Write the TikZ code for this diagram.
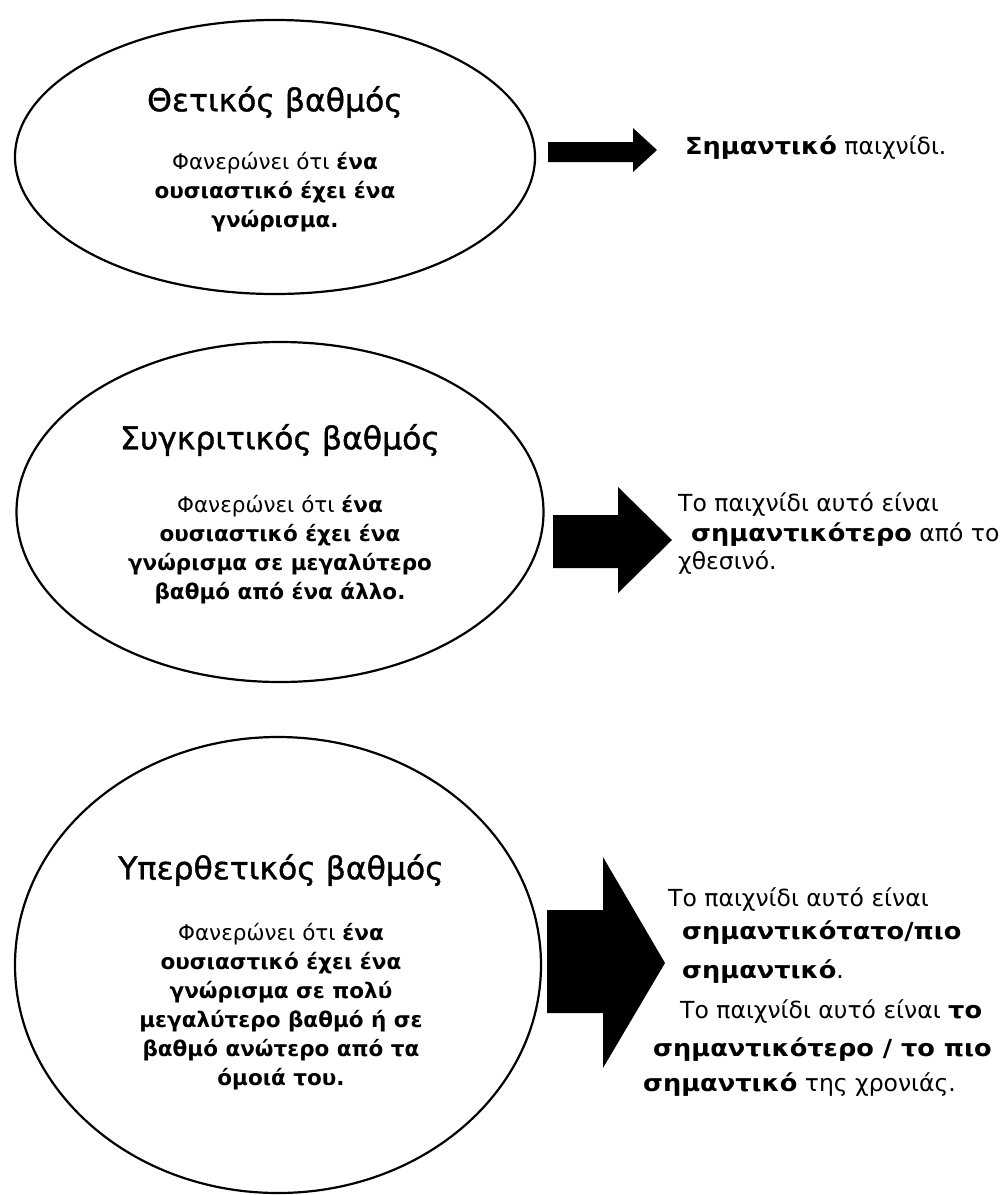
\documentclass[tikz,border=0pt]{standalone}
\usepackage{fontspec}
\setmainfont{DejaVu Sans}
\newfontfamily\titlefont[FakeBold=1.2]{DejaVu Sans}
\newfontfamily\rfont[BoldFeatures={FakeStretch=1.09}]{DejaVu Sans}
\usetikzlibrary{shapes.geometric}
\tikzset{
  oval/.style={draw, ellipse, line width=2.2pt, inner sep=0pt},
  ovaltitle/.style={font=\titlefont\fontsize{31.5}{36}\selectfont, inner sep=0pt},
  ovalbody/.style={font=\fontsize{21.5}{29}\selectfont, align=center, inner sep=0pt},
  rtext/.style={font=\rfont\fontsize{23.5}{29}\selectfont, anchor=west, inner sep=0pt},
  blockarrow/.style={fill=black}
}
\begin{document}
\begin{tikzpicture}[x=1pt,y=-1pt]
\useasboundingbox[fill=white] (0,0) rectangle (1003,1195);
% ovals
\node[oval, minimum width=520pt, minimum height=274pt] (e1) at (275,157) {};
\node[oval, minimum width=527pt, minimum height=340pt] (e2) at (280,512) {};
\node[oval, minimum width=526pt, minimum height=456pt] (e3) at (278,965) {};
% titles
\node[ovaltitle] (t1) at (275,102) {Θετικός βαθμός};
\node[ovaltitle] (t2) at (280,440) {Συγκριτικός βαθμός};
\node[ovaltitle] (t3) at (281,870) {Υπερθετικός βαθμός};
% bodies
\node[ovalbody] (b1) at (275,192) {Φανερώνει ότι \textbf{ένα}\\ \textbf{ουσιαστικό έχει ένα}\\ \textbf{γνώρισμα.}};
\node[ovalbody] (b2) at (280,550) {Φανερώνει ότι \textbf{ένα}\\ \textbf{ουσιαστικό έχει ένα}\\ \textbf{γνώρισμα σε μεγαλύτερο}\\ \textbf{βαθμό από ένα άλλο.}};
\node[ovalbody] (b3) at (281,1007) {Φανερώνει ότι \textbf{ένα}\\ \textbf{ουσιαστικό έχει ένα}\\ \textbf{γνώρισμα σε πολύ}\\ \textbf{μεγαλύτερο βαθμό ή σε}\\ \textbf{βαθμό ανώτερο από τα}\\ \textbf{όμοιά του.}};
% block arrows
\fill[blockarrow] (548,142) -- (633,142) -- (633,128) -- (657,150) -- (633,172) -- (633,162) -- (548,162) -- cycle;
\fill[blockarrow] (553,515) -- (618,515) -- (618,487) -- (672,540) -- (618,593) -- (618,568) -- (553,568) -- cycle;
\fill[blockarrow] (547,910) -- (603,910) -- (603,857) -- (665,963) -- (603,1068) -- (603,1013) -- (547,1013) -- cycle;
% right texts
\node[rtext] (r1) at (685,148) {\textbf{Σημαντικό} παιχνίδι.};
\node[rtext] (r2a) at (678,505) {Το παιχνίδι αυτό είναι};
\node[rtext] (r2b) at (691,535) {\textbf{σημαντικότερο} από το};
\node[rtext] (r2c) at (678,563) {χθεσινό.};
\node[rtext] (r3a) at (668,900) {Το παιχνίδι αυτό είναι};
\node[rtext] (r3b) at (682,933) {\textbf{σημαντικότατο/πιο}};
\node[rtext] (r3c) at (682,972) {\textbf{σημαντικό}.};
\node[rtext] (r3d) at (680,1012) {Το παιχνίδι αυτό είναι \textbf{το}};
\node[rtext] (r3e) at (653,1050) {\textbf{σημαντικότερο / το πιο}};
\node[rtext] (r3f) at (643,1085) {\textbf{σημαντικό} της χρονιάς.};
\end{tikzpicture}
\end{document}
